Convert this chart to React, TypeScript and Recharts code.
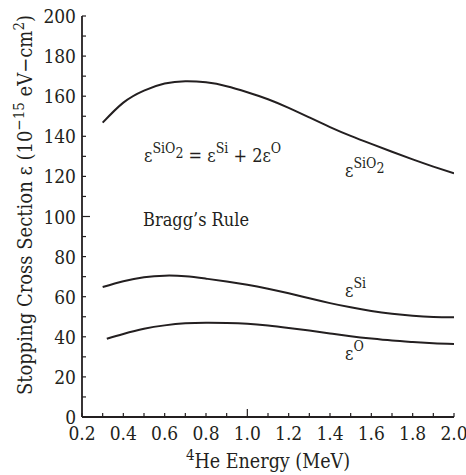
import { LineChart, Line, XAxis, YAxis } from "recharts";

// energies (MeV) and stopping cross sections (1e-15 eV-cm2)
const sio2Energy = [0.3, 0.4, 0.5, 0.6, 0.7, 0.8, 0.9, 1.0, 1.1, 1.2, 1.3, 1.4, 1.5, 1.6, 1.7, 1.8, 1.9, 2.0];
const sio2Values = [146.8, 156.8, 162.8, 166.3, 167.5, 166.9, 165, 162, 158.5, 154.2, 149.4, 144.6, 140.2, 136.2, 132.3, 128.5, 124.9, 121.5];

const siEnergy = [0.3, 0.4, 0.5, 0.6, 0.7, 0.8, 0.9, 1.0, 1.1, 1.2, 1.3, 1.4, 1.5, 1.6, 1.7, 1.8, 1.9, 2.0];
const siValues = [64.8, 67.7, 69.7, 70.5, 70.2, 69, 67.6, 66, 64, 61.7, 59.2, 56.8, 54.7, 52.9, 51.5, 50.5, 49.9, 49.7];

const oEnergy = [0.32, 0.4, 0.5, 0.6, 0.7, 0.8, 0.9, 1.0, 1.1, 1.2, 1.3, 1.4, 1.5, 1.6, 1.7, 1.8, 1.9, 2.0];
const oValues = [39, 41.4, 44, 45.7, 46.7, 47, 46.9, 46.5, 45.6, 44.4, 43.1, 41.7, 40.3, 39.1, 38.1, 37.4, 36.8, 36.4];

const xTicks = [0.2, 0.3, 0.4, 0.5, 0.6, 0.7, 0.8, 0.9, 1.0, 1.1, 1.2, 1.3, 1.4, 1.5, 1.6, 1.7, 1.8, 1.9, 2.0];
const xTickLabels = ["0.2", "0.4", "0.6", "0.8", "1.0", "1.2", "1.4", "1.6", "1.8", "2.0"];
const yTicks = [0, 10, 20, 30, 40, 50, 60, 70, 80, 90, 100, 110, 120, 130, 140, 150, 160, 170, 180, 190, 200];
const yTickLabels = ["0", "20", "40", "60", "80", "100", "120", "140", "160", "180", "200"];

const toRows = (xs: number[], ys: number[]) => xs.map((e, i) => ({ e, v: ys[i] }));

const INK = "#231f20";
const FONT = "'DejaVu Serif Condensed', 'DejaVu Serif', serif";
const base = { fontFamily: FONT, fontStretch: "condensed" as const };

const BottomTick = ({ x, y, payload }: any) => {
  const label = Number(payload.value).toFixed(1);
  const len = label === "1.0" ? 8 : 4;
  return (
    <g>
      <line x1={x} x2={x} y1={y} y2={y - len} stroke={INK} strokeWidth={1.2} />
      {xTickLabels.includes(label) && (
        <text x={x} y={y + 23} textAnchor="middle" fill={INK} style={{ ...base, fontSize: 19 }}>
          {label}
        </text>
      )}
    </g>
  );
};

const TopTick = ({ x, y, payload }: any) => {
  const len = Number(payload.value).toFixed(1) === "1.2" ? 8 : 4;
  return <line x1={x} x2={x} y1={y} y2={y + len} stroke={INK} strokeWidth={1.2} />;
};

const LeftTick = ({ x, y, payload }: any) => {
  const label = String(payload.value);
  const len = payload.value === 100 ? 8 : 4;
  return (
    <g>
      <line x1={x} x2={x + len} y1={y} y2={y} stroke={INK} strokeWidth={1.2} />
      {yTickLabels.includes(label) && (
        <text x={x - 6} y={y + 7} textAnchor="end" fill={INK} style={{ ...base, fontSize: 19 }}>
          {label}
        </text>
      )}
    </g>
  );
};

const RightTick = ({ x, y, payload }: any) => {
  const len = payload.value === 100 ? 8 : 4;
  return <line x1={x} x2={x - len} y1={y} y2={y} stroke={INK} strokeWidth={1.2} />;
};

const axisLine = { stroke: INK, strokeWidth: 1.8 };
const txt = { ...base, fill: INK, fontSize: 18 };

const Sup = ({ children, dy = -9, size = 14 }: any) => (
  <tspan dy={dy} style={{ fontSize: size }}>
    {children}
  </tspan>
);

export default function App() {
  return (
    <div style={{ position: "absolute", left: 0, top: 0, width: 466, height: 475, background: "#fff", fontFamily: FONT }}>
      <LineChart width={466} height={475} margin={{ top: 16, right: 12, bottom: 18, left: 22 }}>
        <XAxis
          xAxisId={0}
          type="number"
          dataKey="e"
          domain={[0.2, 2.0]}
          ticks={xTicks}
          interval={0}
          height={40}
          tickSize={0}
          tickMargin={0}
          tickLine={false}
          axisLine={axisLine}
          tick={<BottomTick />}
          allowDataOverflow
        />
        <XAxis
          xAxisId="top"
          orientation="top"
          type="number"
          dataKey="e"
          domain={[0.2, 2.0]}
          ticks={xTicks}
          interval={0}
          height={0}
          tickSize={0}
          tickMargin={0}
          tickLine={false}
          axisLine={axisLine}
          tick={<TopTick />}
          allowDataOverflow
        />
        <YAxis
          yAxisId={0}
          type="number"
          domain={[0, 200]}
          ticks={yTicks}
          interval={0}
          width={60}
          tickSize={0}
          tickMargin={0}
          tickLine={false}
          axisLine={axisLine}
          tick={<LeftTick />}
          allowDataOverflow
        />
        <YAxis
          yAxisId="right"
          orientation="right"
          type="number"
          domain={[0, 200]}
          ticks={yTicks}
          interval={0}
          width={0}
          tickSize={0}
          tickMargin={0}
          tickLine={false}
          axisLine={axisLine}
          tick={<RightTick />}
          allowDataOverflow
        />

        <Line data={toRows(sio2Energy, sio2Values)} dataKey="v" type="natural" stroke={INK} strokeWidth={2} dot={false} isAnimationActive={false} />
        <Line data={toRows(siEnergy, siValues)} dataKey="v" type="natural" stroke={INK} strokeWidth={2} dot={false} isAnimationActive={false} />
        <Line data={toRows(oEnergy, oValues)} dataKey="v" type="natural" stroke={INK} strokeWidth={2} dot={false} isAnimationActive={false} />

        {/* axis titles */}
        <text transform="translate(32, 205) rotate(-90)" textAnchor="middle" style={{ ...txt, fontSize: 20 }}>
          Stopping Cross Section ε (10
          <Sup dy={-8} size={15}>−15</Sup>
          <tspan dy={8}> eV−cm</tspan>
          <Sup dy={-8} size={15}>2</Sup>
          <tspan dy={8}>)</tspan>
        </text>
        <text x={268} y={468} textAnchor="middle" style={{ ...txt, fontSize: 19.5 }}>
          <Sup dy={-8} size={15}>4</Sup>
          <tspan dy={8}>He Energy (MeV)</tspan>
        </text>

        {/* annotations */}
        <text x={144} y={162} style={txt}>
          ε<Sup>SiO</Sup>
          <Sup dy={5}>2</Sup>
          <tspan dy={4}> = ε</tspan>
          <Sup>Si</Sup>
          <tspan dy={9}> + 2ε</tspan>
          <Sup>O</Sup>
        </text>
        <text x={143} y={226} style={txt}>
          Bragg’s Rule
        </text>
        <text x={345} y={177} style={txt}>
          ε<Sup>SiO</Sup>
          <Sup dy={5}>2</Sup>
        </text>
        <text x={345} y={297} style={txt}>
          ε<Sup>Si</Sup>
        </text>
        <text x={345} y={360} style={txt}>
          ε<Sup>O</Sup>
        </text>
      </LineChart>
    </div>
  );
}
